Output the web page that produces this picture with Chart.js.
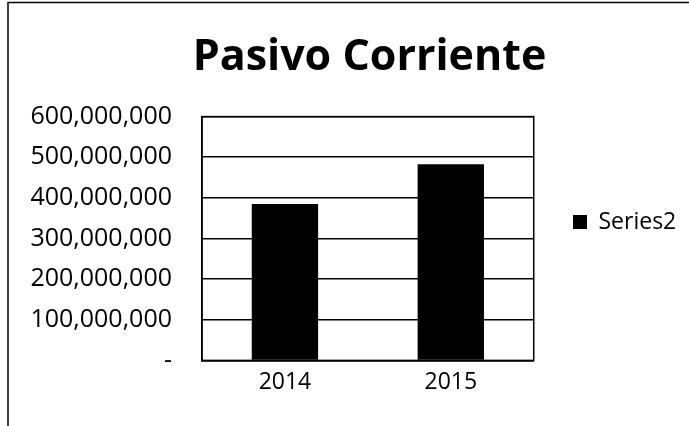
<!DOCTYPE html>
<html>
<head>
<meta charset="utf-8">
<script src="https://cdn.jsdelivr.net/npm/chart.js@4"></script>
<style>
    html, body { margin: 0; padding: 0; background: #fff; }
    #wrap { width: 689px; height: 426px; }
</style>
</head>
<body>
<div id="wrap"><canvas id="pasivoChart"></canvas></div>
<script>
// Chart data
const years = ['2014', '2015'];
const series2 = [385000000, 483000000];
const seriesName = 'Series2';
const chartTitle = 'Pasivo Corriente';

const FONT = "'Open Sans', sans-serif";

// Frame, plot box and a few layout nudges to match the Excel look
const framePlugin = {
    id: 'frame',
    afterLayout(chart) {
        // Excel centres the title over plot + legend, not over the canvas
        chart.titleBlock.left += 26;
        chart.titleBlock.right += 26;
        // legend sits a bit right of the plot and is centred on the whole chart
        const lg = chart.legend;
        const dx = 563 - lg.left;
        lg.left += dx; lg.right += dx;
        lg.top += 20; lg.bottom += 20;
    },
    beforeDraw(chart) {
        const ctx = chart.ctx;
        ctx.save();
        ctx.strokeStyle = '#000';
        ctx.lineWidth = 1.5;
        ctx.beginPath();
        ctx.moveTo(8, 426);
        ctx.lineTo(8, 2.5);
        ctx.lineTo(689, 2.5);
        ctx.stroke();
        ctx.restore();
    },
    afterDatasetsDraw(chart) {
        const {ctx, chartArea} = chart;
        ctx.save();
        ctx.strokeStyle = '#000';
        ctx.lineWidth = 1.5;
        ctx.strokeRect(chartArea.left, chartArea.top, chartArea.right - chartArea.left, chartArea.bottom - chartArea.top);
        ctx.restore();
    }
};

function buildChart() {
    new Chart(document.getElementById('pasivoChart'), {
        type: 'bar',
        data: {
            labels: years,
            datasets: [{
                label: seriesName,
                data: series2,
                backgroundColor: '#000',
                borderWidth: 0,
                categoryPercentage: 1,
                barPercentage: 0.4
            }]
        },
        options: {
            responsive: true,
            maintainAspectRatio: false,
            animation: false,
            layout: {
                padding: { top: 0, left: 30, right: 32, bottom: 22 }
            },
            plugins: {
                title: {
                    display: true,
                    text: chartTitle,
                    color: '#000',
                    font: { family: FONT, size: 43, weight: 'bold' },
                    padding: { top: 32, bottom: 33 }
                },
                legend: {
                    position: 'right',
                    labels: {
                        color: '#000',
                        font: { family: FONT, size: 23 },
                        boxWidth: 14,
                        boxHeight: 14,
                        padding: 10
                    }
                },
                tooltip: { enabled: false }
            },
            scales: {
                x: {
                    grid: { display: false, drawTicks: false },
                    border: { display: true, color: '#000', width: 1.5 },
                    ticks: {
                        color: '#000',
                        font: { family: FONT, size: 23 },
                        padding: 8
                    }
                },
                y: {
                    min: 0,
                    max: 600000000,
                    // the layout caps axis width at a quarter of the canvas, so set it here
                    afterFit: function(scale) { scale.width = 172; },
                    grid: { color: '#000', lineWidth: 1.5, drawTicks: false },
                    border: { display: true, color: '#000', width: 1.5 },
                    ticks: {
                        stepSize: 100000000,
                        color: '#000',
                        font: { family: FONT, size: 25 },
                        padding: 30,
                        callback: function(value) {
                            return value === 0 ? '-' : value.toLocaleString('en-US');
                        }
                    }
                }
            }
        },
        plugins: [framePlugin]
    });
}

// wait for the local fonts so label widths are measured correctly
Promise.all([
    document.fonts.load("25px 'Open Sans'"),
    document.fonts.load("bold 43px 'Open Sans'")
]).then(buildChart, buildChart);
</script>
</body>
</html>
